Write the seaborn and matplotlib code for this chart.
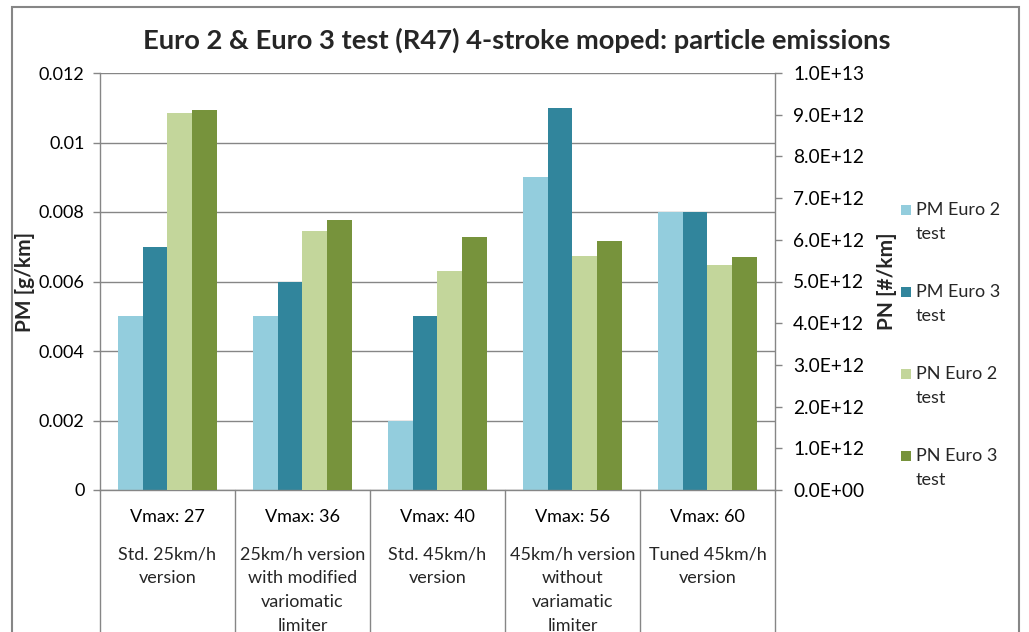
import matplotlib
matplotlib.use("Agg")
import matplotlib.pyplot as plt
import matplotlib.patches as mpatches
from matplotlib.ticker import FuncFormatter, MultipleLocator
import seaborn as sns
import pandas as pd

# data
categories = ["Vmax: 27", "Vmax: 36", "Vmax: 40", "Vmax: 56", "Vmax: 60"]
descriptions = [
    "Std. 25km/h\nversion",
    "25km/h version\nwith modified\nvariomatic\nlimiter",
    "Std. 45km/h\nversion",
    "45km/h version\nwithout\nvariamatic\nlimiter",
    "Tuned 45km/h\nversion",
]
series = ["PM Euro 2 test", "PM Euro 3 test", "PN Euro 2 test", "PN Euro 3 test"]
pm_euro2 = [0.005, 0.005, 0.002, 0.009, 0.008]
pm_euro3 = [0.007, 0.006, 0.005, 0.011, 0.008]
pn_euro2 = [9.04e12, 6.21e12, 5.25e12, 5.60e12, 5.40e12]
pn_euro3 = [9.11e12, 6.48e12, 6.06e12, 5.98e12, 5.59e12]
colors = ["#93CDDD", "#31859C", "#C3D69B", "#77933C"]

pm_df = pd.DataFrame({
    "category": categories * 2,
    "series": [series[0]] * 5 + [series[1]] * 5,
    "value": pm_euro2 + pm_euro3,
})
pn_df = pd.DataFrame({
    "category": categories * 2,
    "series": [series[2]] * 5 + [series[3]] * 5,
    "value": pn_euro2 + pn_euro3,
})

sns.set_theme(style="white")
plt.rcParams["font.family"] = ["Lato", "DejaVu Sans"]

W, H = 1029, 632
GRAY = "#868686"


def fx(px):
    return px / W


def fy(py):
    return 1 - py / H


fig = plt.figure(figsize=(W / 100, H / 100), dpi=100)
ax = fig.add_axes([fx(100), fy(490), fx(775) - fx(100), fy(73) - fy(490)])
ax2 = ax.twinx()

sns.barplot(data=pm_df, x="category", y="value", hue="series", hue_order=series,
            order=categories, palette=colors, width=0.74, saturation=1,
            linewidth=0, legend=False, ax=ax)
sns.barplot(data=pn_df, x="category", y="value", hue="series", hue_order=series,
            order=categories, palette=colors, width=0.74, saturation=1,
            linewidth=0, legend=False, ax=ax2)

ax.set_xlim(-0.5, 4.5)
ax.set_ylim(0, 0.012)
ax2.set_ylim(0, 1.0e13)
ax.yaxis.set_major_locator(MultipleLocator(0.002))
ax2.yaxis.set_major_locator(MultipleLocator(1.0e12))
ax.yaxis.set_major_formatter(FuncFormatter(lambda v, p: f"{v:g}"))
ax2.yaxis.set_major_formatter(FuncFormatter(lambda v, p: f"{v:.1E}"))

ax.set_axisbelow(True)
ax.grid(axis="y", color=GRAY, linewidth=1)
ax.grid(axis="x", visible=False)
ax2.grid(False)

for a in (ax, ax2):
    for s in a.spines.values():
        s.set_visible(False)
ax.spines["left"].set_visible(True)
ax.spines["bottom"].set_visible(True)
ax2.spines["right"].set_visible(True)
for s in (ax.spines["left"], ax.spines["bottom"], ax2.spines["right"]):
    s.set_color(GRAY)
    s.set_linewidth(1)

ax.tick_params(axis="y", left=True, direction="out", length=5, width=1,
               color=GRAY, labelsize=13, pad=6, labelcolor="black")
ax2.tick_params(axis="y", right=True, direction="out", length=5, width=1,
                color=GRAY, labelsize=13.8, pad=8, labelcolor="black")
ax.tick_params(axis="x", length=0, labelsize=13, pad=14, labelcolor="black")
ax.set_xticks(range(len(categories)))
ax.set_xticklabels(categories)

ax.set_xlabel("")
ax.set_ylabel("PM [g/km]", fontsize=15, fontweight="bold")
ax2.set_ylabel("PN [#/km]", fontsize=15, fontweight="bold")
ax.yaxis.set_label_coords(-0.096, 0.5)
ax2.yaxis.set_label_coords(1.151, 0.5)

# category descriptions and separators under the axis
for i, d in enumerate(descriptions):
    ax.text(i, -0.135, d, transform=ax.get_xaxis_transform(), ha="center",
            va="top", fontsize=13, linespacing=1.62)
for b in [k - 0.5 for k in range(len(categories) + 1)]:
    ax.plot([b, b], [0, -0.4], transform=ax.get_xaxis_transform(),
            clip_on=False, color=GRAY, linewidth=1)

# legend
legend_y = [210, 292, 374, 456]
for lab, c, y in zip(series, colors, legend_y):
    fig.add_artist(mpatches.Rectangle((fx(901), fy(y + 5)), fx(10), 10 / H,
                                      transform=fig.transFigure, color=c,
                                      linewidth=0))
    fig.text(fx(916), fy(y - 8), lab.replace(" test", "\ntest"), ha="left",
             va="top", fontsize=13, linespacing=1.58)

fig.text(fx(517), fy(40), "Euro 2 & Euro 3 test (R47) 4-stroke moped: particle emissions",
         ha="center", va="center", fontsize=19.7, fontweight="bold")

# chart area border
fig.add_artist(mpatches.Rectangle((fx(12), fy(700)), fx(1019) - fx(12), fy(7) - fy(700),
                                  transform=fig.transFigure, fill=False,
                                  edgecolor=GRAY, linewidth=1.5))

fig.savefig("out.png", dpi=100)
